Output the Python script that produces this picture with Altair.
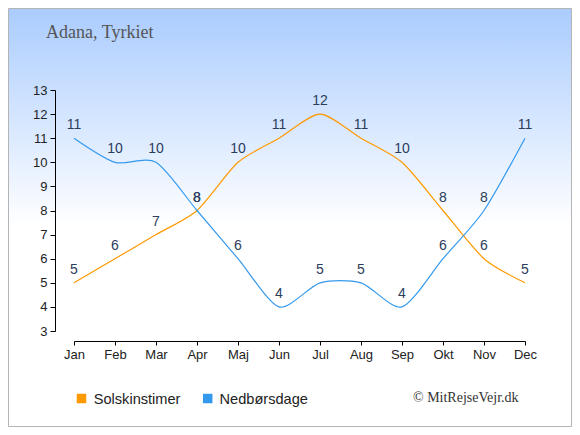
import altair as alt
import pandas as pd

months = ["Jan", "Feb", "Mar", "Apr", "Maj", "Jun", "Jul", "Aug", "Sep", "Okt", "Nov", "Dec"]
sun_hours = [5, 6, 7, 8, 10, 11, 12, 11, 10, 8, 6, 5]
rain_days = [11, 10, 10, 8, 6, 4, 5, 5, 4, 6, 8, 11]
series_names = ["Solskinstimer", "Nedbørsdage"]
series_colors = ["#ff9900", "#3399ee"]
y_ticks = list(range(3, 14))
title_text = "Adana, Tyrkiet"
credit_text = "© MitRejseVejr.dk"

rows = []
for m, v in zip(months, sun_hours):
    rows.append({"month": m, "value": v, "series": series_names[0]})
for m, v in zip(months, rain_days):
    rows.append({"month": m, "value": v, "series": series_names[1]})
df = pd.DataFrame(rows)

W, H = 451, 241
PL, PT = 66, 82
TOTAL_W, TOTAL_H = 564, 419
OX, OY = 8 + PL, 8 + PT  # page position of the plot origin

x_enc = alt.X("month:N", sort=months,
              scale=alt.Scale(type="point", padding=0),
              axis=alt.Axis(title=None, labelAngle=0, offset=10, grid=False, zindex=2,
                            domainColor="#000", tickColor="#000", tickSize=4,
                            labelFontSize=13, labelColor="#222", labelFont="Liberation Sans",
                            labelPadding=3))
y_enc = alt.Y("value:Q",
              scale=alt.Scale(domain=[3, 13], nice=False, zero=False),
              axis=alt.Axis(title=None, values=y_ticks, offset=19, grid=False, zindex=2,
                            domainColor="#000", tickColor="#000", tickSize=5,
                            labelFontSize=13, labelColor="#222", labelFont="Liberation Sans",
                            labelPadding=3))
color_scale = alt.Scale(domain=series_names, range=series_colors)

gradient = alt.LinearGradient(
    gradient="linear",
    stops=[alt.GradientStop(color="#aaccff", offset=0),
           alt.GradientStop(color="#ffffff", offset=0.52),
           alt.GradientStop(color="#ffffff", offset=1)],
    x1=0, x2=0, y1=0, y2=1)

bg = alt.Chart(pd.DataFrame({"a": [0]})).mark_rect(
    fill=gradient, stroke="#b4b4b4", strokeWidth=1, clip=False
).encode(x=alt.value(-PL + 0.5), x2=alt.value(TOTAL_W - PL - 0.5),
         y=alt.value(-PT + 0.5), y2=alt.value(TOTAL_H - PT - 0.5))

base = alt.Chart(df)

lines = base.mark_line(interpolate="cardinal", tension=0.25, strokeWidth=1.2).encode(
    x=x_enc, y=y_enc,
    color=alt.Color("series:N", scale=color_scale, legend=None),
    detail="series:N")

labels = base.mark_text(dy=-13, fontSize=14, color="#2b3d5b", font="Liberation Sans").encode(
    x=x_enc, y=y_enc, text="value:Q")

# manual legend (layout positions only)
legend_layers = []
legend_sq_x = [81.5, 207.7]
legend_tx_x = [93.7, 219.5]
for name, sx, tx in zip(series_names, legend_sq_x, legend_tx_x):
    ldf = pd.DataFrame({"series": [name]})
    sq = alt.Chart(ldf).mark_square(size=90, opacity=1, filled=True, clip=False).encode(
        color=alt.Color("series:N", scale=color_scale, legend=None),
        x=alt.value(sx - OX), y=alt.value(398.5 - OY))
    tx_mark = alt.Chart(ldf).mark_text(
        align="left", baseline="alphabetic", fontSize=14.6, font="Liberation Sans", color="#222"
    ).encode(text="series:N", x=alt.value(tx - OX), y=alt.value(403.5 - OY))
    legend_layers += [sq, tx_mark]

title = alt.Chart(pd.DataFrame({"t": [title_text]})).mark_text(
    align="left", baseline="alphabetic", fontSize=18, font="Liberation Serif", color="#555"
).encode(text="t:N", x=alt.value(46 - OX), y=alt.value(38 - OY))

credit = alt.Chart(pd.DataFrame({"t": [credit_text]})).mark_text(
    align="left", baseline="alphabetic", fontSize=14, font="Liberation Serif", color="#333"
).encode(text="t:N", x=alt.value(413 - OX), y=alt.value(402 - OY))

chart = alt.layer(bg, lines, labels, title, credit, *legend_layers).properties(
    width=W, height=H,
    autosize=alt.AutoSizeParams(type="none"),
    padding={"left": PL, "top": PT, "right": TOTAL_W - PL - W, "bottom": TOTAL_H - PT - H},
).configure_view(stroke=None)

chart.save("out.html", embed_options={"renderer": "svg", "actions": False})
